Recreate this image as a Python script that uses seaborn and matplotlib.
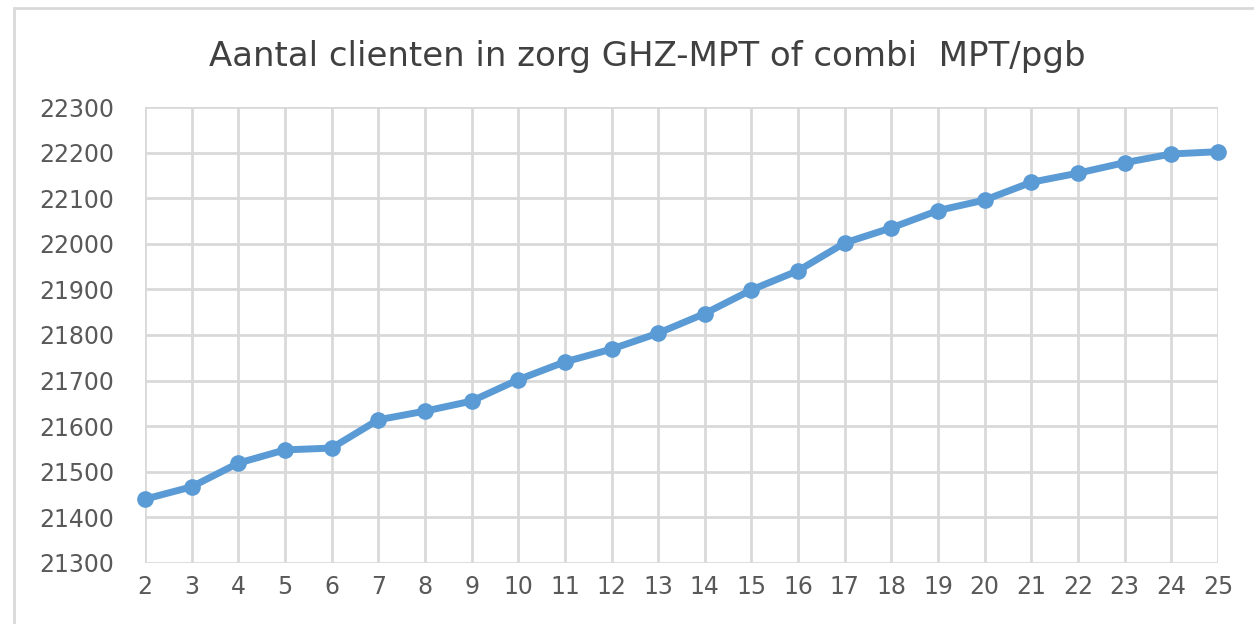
import matplotlib
matplotlib.use("Agg")
import matplotlib.pyplot as plt
import seaborn as sns
import pandas as pd
from matplotlib.patches import Rectangle

# week numbers and number of clients
weeks = list(range(2, 26))
clients = [21440, 21467, 21519, 21548, 21552, 21614, 21633, 21655, 21702,
           21741, 21769, 21804, 21847, 21899, 21941, 22002, 22035,
           22073, 22096, 22135, 22155, 22178, 22197, 22202]
y_ticks = list(range(21300, 22301, 100))
title = "Aantal clienten in zorg GHZ-MPT of combi  MPT/pgb"

df = pd.DataFrame({"week": weeks, "clients": clients})

sns.set_style("white")
plt.rcParams["font.family"] = ["DejaVu Sans"]

fig = plt.figure(figsize=(12.54, 6.24), dpi=100)
ax = fig.add_axes([0.1156, 0.0978, 0.9713 - 0.1156, 0.8285 - 0.0978])

sns.lineplot(data=df, x="week", y="clients", ax=ax, color="#5b9bd5",
             linewidth=5, marker="o", markersize=12, markeredgewidth=0,
             clip_on=False, zorder=3)

ax.set_xlim(2, 25)
ax.set_ylim(21300, 22300)
ax.set_xticks(weeks)
ax.set_yticks(y_ticks)
ax.grid(True, color="#d9d9d9", linewidth=2)
for s in ax.spines.values():
    s.set_visible(False)
ax.tick_params(length=0, labelsize=17, colors="#595959")
ax.tick_params(axis="y", pad=22)
ax.tick_params(axis="x", pad=9)
ax.set_xlabel("")
ax.set_ylabel("")

fig.text(0.516, 0.91, title, ha="center", va="center", fontsize=24.5,
         color="#404040")

# light frame around the chart area
fig.patches.append(Rectangle((0.011, -0.01), 1.0, 0.997, transform=fig.transFigure,
                             fill=False, edgecolor="#d9d9d9", linewidth=2))

fig.savefig("out.png", dpi=100)
